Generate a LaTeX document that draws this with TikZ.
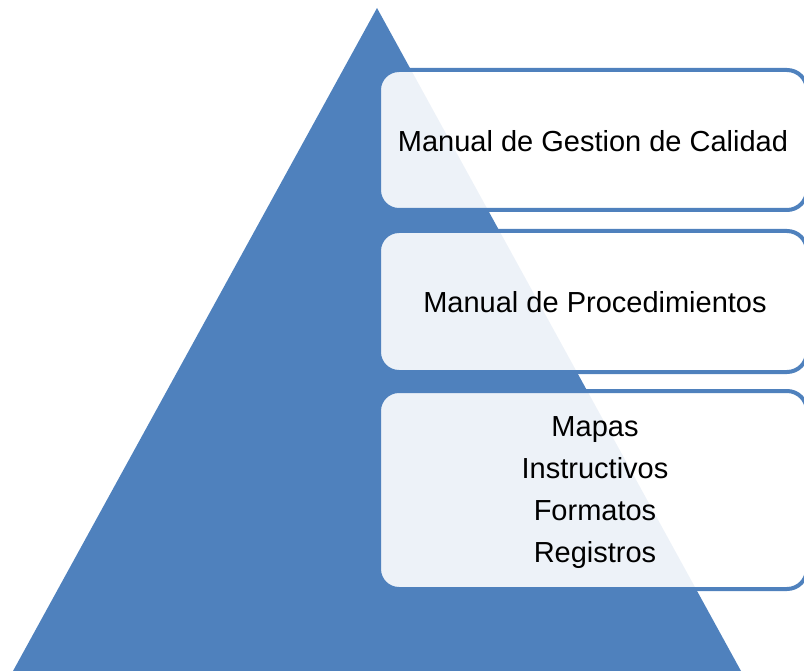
\documentclass[tikz,border=0pt]{standalone}
\usepackage{fontspec}
\setmainfont{Liberation Sans}
\definecolor{pyblue}{HTML}{4F81BD}
\begin{document}
\begin{tikzpicture}[x=1pt,y=-1pt,
  levelbox/.style={draw=pyblue, line width=4pt, fill=white, fill opacity=0.9, text opacity=1,
    rounded corners=20pt, minimum width=428pt, inner sep=0pt, align=center,
    font=\fontsize{29pt}{42pt}\selectfont},
  leveltext/.style={align=center, inner sep=0pt, font=\fontsize{29pt}{42pt}\selectfont}]
\useasboundingbox (0,0) rectangle (804,671);
\clip (0,0) rectangle (804,671);
\fill[pyblue] (377,8) coordinate (apex) -- (13,671) coordinate (bl) -- (741,671) coordinate (br) -- cycle;
\node[levelbox, minimum height=140pt] (b1) at (593,140) {};
\node[leveltext] (t1) at (593,141) {Manual de Gestion de Calidad};
\node[levelbox, minimum height=141pt] (b2) at (593,301.5) {};
\node[leveltext] (t2) at (595,302) {Manual de Procedimientos};
\node[levelbox, minimum height=198pt] (b3) at (593,490) {};
\node[leveltext] (t3) at (595,493) {Mapas\\Instructivos\\Formatos\\Registros};
\end{tikzpicture}
\end{document}
